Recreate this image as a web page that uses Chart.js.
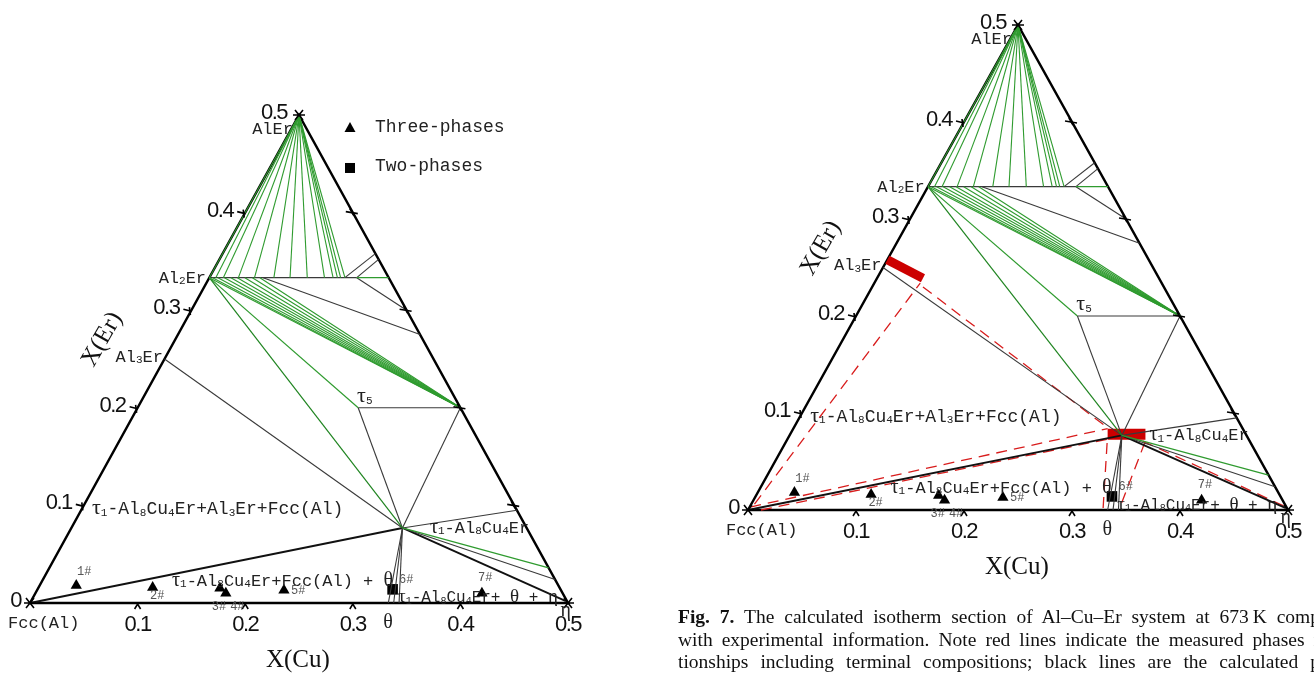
<!DOCTYPE html>
<html>
<head>
<meta charset="utf-8">
<script src="https://cdn.jsdelivr.net/npm/chart.js@4.4.1/dist/chart.umd.min.js"></script>
<style>
  html, body { margin: 0; padding: 0; background: #fff; width: 1314px; height: 675px; overflow: hidden; }
  canvas { position: absolute; top: 0; }
  #leftChart { left: 0; }
  #rightChart { left: 650px; }
  .cap {
    position: absolute; left: 678px; width: 642px; height: 23px; overflow: hidden;
    font-family: "Liberation Serif", "DejaVu Serif", serif; font-size: 19.5px; line-height: 23px;
    color: #111; text-align: justify; text-align-last: justify;
  }
</style>
</head>
<body>
<canvas id="leftChart" width="650" height="675"></canvas>
<canvas id="rightChart" width="664" height="675"></canvas>
<div class="cap" style="top:605px"><b>Fig. 7.</b> The calculated isotherm section of Al–Cu–Er system at 673&#8201;K comp</div>
<div class="cap" style="top:628px">with experimental information. Note red lines indicate the measured phases r</div>
<div class="cap" style="top:650px">tionships including terminal compositions; black lines are the calculated p</div>
<script>
// ---------- compositions are given as (xCu, xEr) ----------
const TAU1 = [0.3077, 0.0769];          // τ1-Al8Cu4Er
const TAU5 = [0.205, 0.2];
const AL2ER = [0, 1 / 3];
const AL3ER = [0, 0.25];
const ALER = [0, 0.5];
const CORNER_T5 = [0.3, 0.2];

// triangle frame
const frameCu = [0, 0.5, 0, 0];
const frameEr = [0, 0, 0.5, 0];

// AlEr + Al2Er(Cu) tie-lines: Cu content of the Al2Er end
const alErTieCu = [0, 0.006, 0.013, 0.027, 0.042, 0.060, 0.075, 0.091, 0.107, 0.115, 0.119, 0.122, 0.126];
// Al2Er(Cu) + corner phase tie-lines: Cu content of the Al2Er end
const al2ErTieCu = [0, 0.003, 0.008, 0.014, 0.020, 0.026, 0.033, 0.040, 0.047];

// calculated phase boundaries [cu1, er1, cu2, er2]
const boundaryLines = [
  [0, 1 / 3, 0.137, 1 / 3],
  [0.05, 1 / 3, 0.225, 0.275],
  [0.137, 1 / 3, 0.2, 0.3],
  [0.126, 1 / 3, 0.142, 0.358],
  [0.137, 1 / 3, 0.148, 0.352],
  [0.205, 0.2, 0.3, 0.2],
  [0.205, 0.2, 0.3077, 0.0769],
  [0.3, 0.2, 0.3077, 0.0769],
  [0, 0.25, 0.3077, 0.0769],
  [0.3077, 0.0769, 0.405, 0.095],
  [0.3077, 0.0769, 0.476, 0.024],
  [0.3077, 0.0769, 0.333, 0],
  [0.3077, 0.0769, 0.338, 0],
  [0.3077, 0.0769, 0.343, 0]
];
const heavyLines = [
  [0, 0, 0.3077, 0.0769],
  [0.3077, 0.0769, 0.497, 0.002]
];
const greenLines = [
  [0.137, 1 / 3, 0.1667, 1 / 3],
  [0, 1 / 3, 0.205, 0.2],
  [0, 1 / 3, 0.3077, 0.0769],
  [0.3077, 0.0769, 0.464, 0.036]
];

// measured phase relations
const measuredBars = [
  [0, 0.258, 0.0425, 0.239],
  [0.294, 0.078, 0.329, 0.078]
];
const measuredLines = [
  [0.003, 0.006, 0.0425, 0.234],
  [0.047, 0.230, 0.291, 0.0845],
  [0.0005, 0.003, 0.291, 0.084],
  [0.012, 0, 0.2965, 0.073],
  [0.298, 0.069, 0.3287, 0],
  [0.3326, 0.070, 0.343, 0.003],
  [0.33, 0.071, 0.497, 0.003]
];

// alloys
const threePhaseNames = ['1#', '2#', '3#', '4#', '5#', '7#'];
const threePhaseCu = [0.034, 0.106, 0.169, 0.177, 0.2295, 0.415];
const threePhaseEr = [0.018, 0.016, 0.015, 0.010, 0.013, 0.010];
const twoPhaseNames = ['6#'];
const twoPhaseCu = [0.330];
const twoPhaseEr = [0.014];

// axis ticks
const tickValues = [0.1, 0.2, 0.3, 0.4];
const cuTickLabels = ['0.1', '0.2', '0.3', '0.4', '0.5'];
const erTickLabels = ['0', '0.1', '0.2', '0.3', '0.4', '0.5'];

// ---------- helpers ----------
const P = (cu, er) => ({ x: cu + er / 2, y: er });

const GREEN = '#2f9b2f';
const DARK_GREEN = '#1f8420';
const LINE = '#3a3a3a';
const RED = '#d81c1c';

function segDataset(s, color, width, dash) {
  return {
    type: 'scatter', data: [P(s[0], s[1]), P(s[2], s[3])], showLine: true,
    borderColor: color, borderWidth: width, borderDash: dash || [],
    pointRadius: 0, clip: false, fill: false, borderCapStyle: 'butt'
  };
}

function buildDatasets(measured) {
  const ds = [];
  alErTieCu.forEach(cu => ds.push(segDataset([ALER[0], ALER[1], cu, 1 / 3], GREEN, 1.1)));
  al2ErTieCu.forEach(cu => ds.push(segDataset([cu, 1 / 3, CORNER_T5[0], CORNER_T5[1]], GREEN, 1.1)));
  greenLines.forEach((s, i) => ds.push(segDataset(s, i === 2 ? DARK_GREEN : GREEN, 1.2)));
  boundaryLines.forEach(s => ds.push(segDataset(s, LINE, 1.1)));
  heavyLines.forEach(s => ds.push(segDataset(s, '#111', 1.9)));
  if (measured) {
    measuredLines.forEach(s => ds.push(segDataset(s, RED, 1.3, [11, 7])));
    measuredBars.forEach((s, i) => ds.push(segDataset(s, '#cc0000', i === 0 ? 9 : 11)));
  }
  ds.push({
    type: 'scatter', data: frameCu.map((c, i) => P(c, frameEr[i])), showLine: true,
    borderColor: '#000', borderWidth: 2.5, pointRadius: 0, clip: false, borderJoinStyle: 'miter'
  });
  ds.push({
    type: 'scatter', label: 'Three-phases',
    data: threePhaseCu.map((c, i) => P(c, threePhaseEr[i])),
    pointStyle: 'triangle', pointRadius: 6.5, backgroundColor: '#000', borderWidth: 0, clip: false
  });
  ds.push({
    type: 'scatter', label: 'Two-phases',
    data: twoPhaseCu.map((c, i) => P(c, twoPhaseEr[i])),
    pointStyle: 'rect', pointRadius: 7.5, backgroundColor: '#000', borderWidth: 0, clip: false
  });
  return ds;
}

// text placed in plot coordinates (x = xCu + xEr/2, y = xEr), y is the text middle
const annotations = [
  { t: 'AlEr', x: 0.2444, y: 0.4867, align: 'right', size: 17 },
  { t: 'Al_2Er', x: 0.1636, y: 0.334, align: 'right', size: 17 },
  { t: 'Al_3Er', x: 0.1236, y: 0.253, align: 'right', size: 17 },
  { t: 'τ_5', x: 0.304, y: 0.212, align: 'left', size: 18 },
  { t: 'τ_1-Al_8Cu_4Er+Al_3Er+Fcc(Al)', x: 0.0576, y: 0.0973, align: 'left', size: 18 },
  { t: 'τ_1-Al_8Cu_4Er+Fcc(Al) + θ', x: 0.132, y: 0.0236, align: 'left', size: 17 },
  { t: 'τ_1-Al_8Cu_4Er', x: 0.3717, y: 0.0779, align: 'left', size: 17 },
  { t: 'τ_1-Al_8Cu_4Er+ θ + η', x: 0.342, y: 0.0061, align: 'left', size: 16 },
  { t: 'Fcc(Al)', x: -0.0204, y: -0.0195, align: 'left', size: 17 },
  { t: 'θ', x: 0.3327, y: -0.0195, align: 'center', size: 17 },
  { t: 'η', x: 0.498, y: -0.007, align: 'center', size: 17 }
];
const alloyLabels = [
  { t: '1#', x: 0.0437, y: 0.0318 },
  { t: '2#', x: 0.1115, y: 0.0072 },
  { t: '3#', x: 0.169, y: -0.004 },
  { t: '4#', x: 0.186, y: -0.004 },
  { t: '5#', x: 0.2426, y: 0.0123 },
  { t: '6#', x: 0.343, y: 0.0236 },
  { t: '7#', x: 0.4164, y: 0.0256 }
];

const MONO = '"Liberation Mono", "DejaVu Sans Mono", monospace';
const SERIF = '"Liberation Serif", "DejaVu Serif", serif';
const SANS = '"Liberation Sans", Arial, sans-serif';

// draws strings like "Al_8Cu_4Er" with small subscript digits and serif Greek letters
function richText(ctx, str, x, cy, size, align) {
  const parts = [];
  for (let i = 0; i < str.length; i++) {
    const c = str[i];
    if (c === '_') { parts.push({ t: str[i + 1], k: 'sub' }); i++; }
    else if ('τθη'.includes(c)) parts.push({ t: c, k: 'greek' });
    else if (parts.length && parts[parts.length - 1].k === 'n') parts[parts.length - 1].t += c;
    else parts.push({ t: c, k: 'n' });
  }
  const fontOf = k => k === 'sub' ? `${Math.round(size * 0.62)}px ${MONO}`
    : k === 'greek' ? `${Math.round(size * 1.2)}px ${SERIF}` : `${size}px ${MONO}`;
  let w = 0;
  parts.forEach(p => { ctx.font = fontOf(p.k); p.w = ctx.measureText(p.t).width; w += p.w; });
  let cx = align === 'right' ? x - w : align === 'center' ? x - w / 2 : x;
  const base = cy + size * 0.34;
  ctx.textAlign = 'left';
  ctx.textBaseline = 'alphabetic';
  parts.forEach(p => {
    ctx.font = fontOf(p.k);
    ctx.fillText(p.t, cx, base + (p.k === 'sub' ? 1.5 : 0));
    cx += p.w;
  });
}

const ternaryFrame = {
  id: 'ternaryFrame',
  afterDatasetsDraw(chart, args, opts) {
    const ctx = chart.ctx;
    const xs = chart.scales.x, ys = chart.scales.y;
    const px = (x, y) => [xs.getPixelForValue(x), ys.getPixelForValue(y)];
    const pc = (cu, er) => px(cu + er / 2, er);
    ctx.save();
    ctx.strokeStyle = '#000';
    ctx.fillStyle = '#111';
    ctx.lineWidth = 1.6;

    // tick marks
    tickValues.forEach(v => {
      let [x, y] = pc(v, 0);               // bottom (Cu)
      ctx.beginPath(); ctx.moveTo(x - 3, y + 6); ctx.lineTo(x, y + 1); ctx.lineTo(x + 3, y + 6); ctx.stroke();
      [x, y] = pc(0, v);                   // left edge (Er)
      ctx.beginPath(); ctx.moveTo(x - 8, y - 1); ctx.lineTo(x, y + 1); ctx.stroke();
      ctx.beginPath(); ctx.moveTo(x - 2, y - 3); ctx.lineTo(x - 1, y + 5); ctx.stroke();
      [x, y] = pc(0.5 - v, v);             // right edge
      ctx.beginPath(); ctx.moveTo(x - 7, y - 1); ctx.lineTo(x + 5, y + 1); ctx.stroke();
      ctx.beginPath(); ctx.moveTo(x - 3, y - 4); ctx.lineTo(x + 1, y + 3); ctx.stroke();
    });
    // corner stars
    [[0, 0], [0.5, 0], [0, 0.5]].forEach(([cu, er]) => {
      const [x, y] = pc(cu, er);
      ctx.beginPath();
      ctx.moveTo(x - 6, y); ctx.lineTo(x + 6, y);
      ctx.moveTo(x - 4, y - 5); ctx.lineTo(x + 4, y + 5);
      ctx.moveTo(x + 4, y - 5); ctx.lineTo(x - 4, y + 5);
      ctx.stroke();
    });

    // tick labels
    ctx.font = `22px ${SANS}`;
    ctx.letterSpacing = '-1.5px';
    ctx.textBaseline = 'middle';
    ctx.textAlign = 'center';
    cuTickLabels.forEach((lab, i) => {
      const [x, y] = pc(tickValues.concat([0.5])[i], 0);
      ctx.fillText(lab, x, y + 22);
    });
    ctx.textAlign = 'right';
    erTickLabels.forEach((lab, i) => {
      const v = i / 10;
      const [x, y] = pc(0, v);
      ctx.fillText(lab, x - (i === 0 ? 9 : 12), y - 2);
    });
    ctx.letterSpacing = '0px';

    // axis titles
    ctx.font = `25px ${SERIF}`;
    ctx.textAlign = 'center';
    const [tx, ty] = pc(0.249, 0);
    ctx.fillText('X(Cu)', tx, ty + 57);
    const [ex, ey] = pc(0, 0.27);
    ctx.save();
    ctx.translate(ex - 73, ey);
    ctx.rotate(-Math.PI / 180 * 60.5);
    ctx.fillText('X(Er)', 0, 0);
    ctx.restore();

    // phase labels
    ctx.fillStyle = '#222';
    annotations.forEach(a => {
      const [x, y] = px(a.x, a.y);
      richText(ctx, a.t, x, y, a.size, a.align);
    });
    ctx.fillStyle = '#555';
    ctx.font = `12px ${MONO}`;
    ctx.textAlign = 'left';
    ctx.textBaseline = 'middle';
    alloyLabels.forEach(a => {
      const [x, y] = px(a.x, a.y);
      ctx.fillText(a.t, x, y);
    });

    // legend
    if (opts.legend) {
      const [lx, ly] = px(0.2974, 0.4867);
      ctx.fillStyle = '#000';
      ctx.beginPath();
      ctx.moveTo(lx, ly - 6); ctx.lineTo(lx + 5.5, ly + 4); ctx.lineTo(lx - 5.5, ly + 4); ctx.closePath();
      ctx.fill();
      ctx.fillRect(lx - 5, ly + 35, 10, 10);
      ctx.fillStyle = '#222';
      ctx.font = `18px ${MONO}`;
      ctx.textAlign = 'left';
      ctx.textBaseline = 'middle';
      const names = chart.data.datasets.filter(d => d.label).map(d => d.label);
      ctx.fillText(names[0], lx + 25, ly - 1);
      ctx.fillText(names[1], lx + 25, ly + 38);
    }
    ctx.restore();
  }
};

function makeChart(id, padding, measured, legend) {
  return new Chart(document.getElementById(id), {
    type: 'scatter',
    data: { datasets: buildDatasets(measured) },
    options: {
      responsive: false,
      animation: false,
      devicePixelRatio: 1,
      layout: { padding },
      elements: { line: { tension: 0 } },
      plugins: {
        legend: { display: false },
        tooltip: { enabled: false },
        ternaryFrame: { legend }
      },
      scales: {
        x: { type: 'linear', min: 0, max: 0.5, display: false },
        y: { type: 'linear', min: 0, max: 0.5, display: false }
      }
    },
    plugins: [ternaryFrame]
  });
}

makeChart('leftChart', { left: 30, right: 82, top: 115, bottom: 72 }, false, true);
makeChart('rightChart', { left: 98, right: 26, top: 25, bottom: 165 }, true, false);
</script>
</body>
</html>
